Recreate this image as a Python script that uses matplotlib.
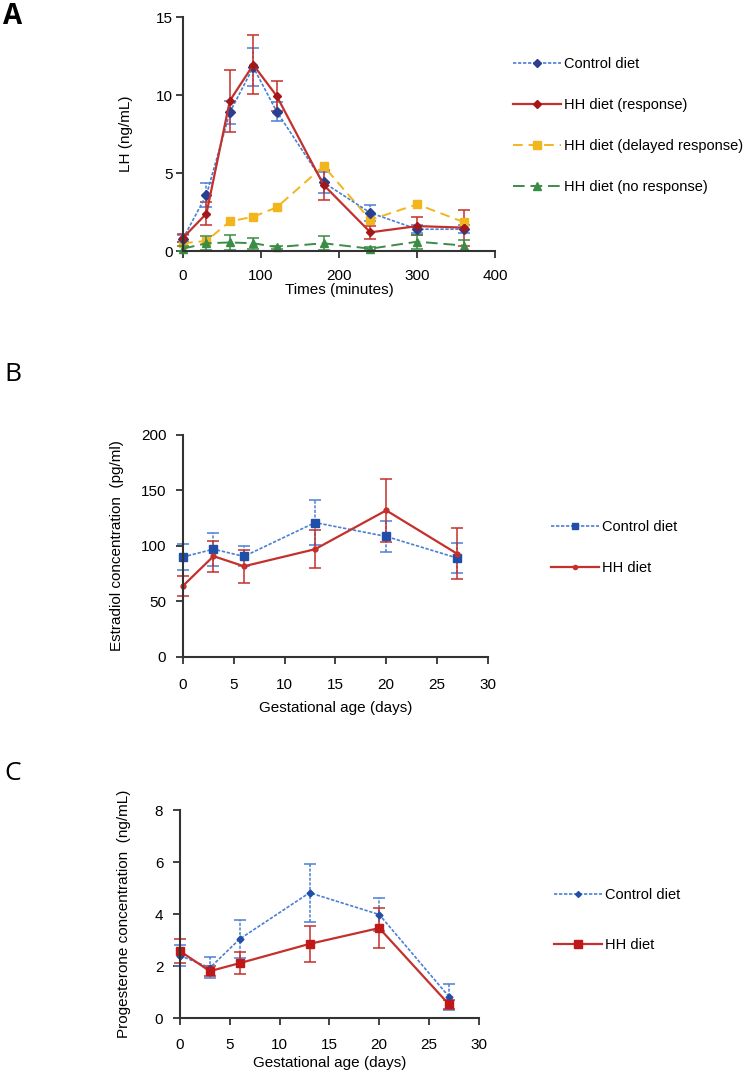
import matplotlib
matplotlib.use("Agg")
import matplotlib.pyplot as plt

plt.rcParams['font.family'] = ['Liberation Sans', 'DejaVu Sans']

# Panel A: LH response
timesA = [0, 30, 60, 90, 120, 180, 240, 300, 360]
lhControl = [0.8, 3.6, 8.9, 11.8, 8.95, 4.4, 2.45, 1.4, 1.4]
lhControlErr = [0.2, 0.75, 0.75, 1.2, 0.6, 0.65, 0.5, 0.25, 0.25]
lhResponse = [0.85, 2.4, 9.65, 11.95, 9.95, 4.25, 1.2, 1.6, 1.5]
lhResponseErr = [0.25, 0.75, 2.0, 1.9, 0.95, 0.95, 0.4, 0.6, 1.15]
lhDelayed = [0.5, 0.65, 1.9, 2.2, 2.8, 5.45, 2.0, 3.0, 1.85]
lhNone = [0.15, 0.5, 0.55, 0.5, 0.25, 0.5, 0.15, 0.6, 0.35]
lhNoneErr = [0.15, 0.45, 0.5, 0.35, 0.1, 0.45, 0.1, 0.45, 0.35]
labelsA = ['Control diet', 'HH diet (response)', 'HH diet (delayed response)',
           'HH diet (no response)']

# Panel B: estradiol
daysB = [0, 3, 6, 13, 20, 27]
e2Control = [90, 97, 90.5, 121, 108.5, 89]
e2ControlErr = [11.5, 15, 9, 20.5, 14, 13.5]
e2HH = [64, 90.7, 81.6, 97, 132, 92.8]
e2HHErr = [9, 14, 15, 17, 28.7, 23]

# Panel C: progesterone
daysC = [0, 3, 6, 13, 20, 27]
p4Control = [2.41, 1.94, 3.05, 4.83, 3.99, 0.83]
p4ControlErr = [0.42, 0.4, 0.74, 1.12, 0.64, 0.5]
p4HH = [2.58, 1.81, 2.12, 2.86, 3.47, 0.53]
p4HHErr = [0.46, 0.2, 0.42, 0.68, 0.77, 0.18]
labelsBC = ['Control diet', 'HH diet']

blueLine = '#4a7fd4'
blueMark = '#2b3f8f'
redLine = '#c4302b'
redMark = '#a3161a'
yellow = '#f2b51c'
green = '#3b8c45'
fs = 11

fig = plt.figure(figsize=(7.47, 10.82), dpi=100)


def styleAxes(ax, xpad, ypad):
    for s in ['top', 'right']:
        ax.spines[s].set_visible(False)
    for s in ['left', 'bottom']:
        ax.spines[s].set_linewidth(1.5)
        ax.spines[s].set_color('#333333')
    ax.tick_params(direction='out', length=5, width=1.3, color='#333333',
                   labelsize=fs)
    ax.tick_params(axis='x', pad=xpad)
    ax.tick_params(axis='y', pad=ypad)


def eb(ax, x, y, err, color, mcolor, marker, ms, ls, lw, ebls):
    c = ax.errorbar(x, y, yerr=err, color=color, marker=marker, ms=ms,
                    mfc=mcolor, mec=mcolor, ls=ls, lw=lw, capsize=4,
                    elinewidth=1.1, capthick=1.1, clip_on=False)
    for col in c[2]:
        col.set_linestyle(ebls)
    return c[0]


def addLegend(ax, handles, labels, x, y, ls):
    ax.legend(handles, labels, loc='upper left', bbox_to_anchor=(x, y),
              bbox_transform=fig.transFigure, frameon=False, fontsize=10.5,
              handlelength=3.3, labelspacing=ls, handletextpad=0.2, borderpad=0,
              markerscale=0.85)


# ---- A ----
axA = fig.add_axes([0.245, 0.768, 0.418, 0.216])
hA = []
hA.append(eb(axA, timesA, lhControl, lhControlErr, blueLine, blueMark, 'D', 5, (0, (2, 1)), 1.2, (0, (2, 1))))
hA.append(eb(axA, timesA, lhResponse, lhResponseErr, redLine, redMark, 'D', 4.5, '-', 1.6, '-'))
hA += axA.plot(timesA, lhDelayed, color=yellow, marker='s', ms=6, ls=(0, (5, 3)), lw=1.4,
               clip_on=False)
hA.append(eb(axA, timesA, lhNone, lhNoneErr, green, green, '^', 6, (0, (6, 3)), 1.4, '-'))
axA.set_xlim(0, 400)
axA.set_ylim(0, 15)
axA.set_xticks([0, 100, 200, 300, 400])
axA.set_yticks([0, 5, 10, 15])
styleAxes(axA, 8, 2)
axA.set_xlabel('Times (minutes)', fontsize=fs, labelpad=0)
axA.set_ylabel('LH (ng/mL)', fontsize=fs, labelpad=17)
addLegend(axA, hA, labelsA, 0.677, 0.954, 1.85)

# ---- B ----
axB = fig.add_axes([0.245, 0.393, 0.408, 0.205])
hB = []
hB.append(eb(axB, daysB, e2Control, e2ControlErr, blueLine, '#1f4fa8', 's', 5.5, (0, (2, 1)), 1.2, (0, (2, 1))))
hB.append(eb(axB, daysB, e2HH, e2HHErr, redLine, redLine, 'o', 3.5, '-', 1.6, '-'))
axB.set_xlim(0, 30)
axB.set_ylim(0, 200)
axB.set_xticks(range(0, 31, 5))
axB.set_yticks(range(0, 201, 50))
styleAxes(axB, 10, 7)
axB.set_xlabel('Gestational age (days)', fontsize=fs, labelpad=7)
axB.set_ylabel('Estradiol concentration  (pg/ml)', fontsize=fs, labelpad=12)
addLegend(axB, hB, labelsBC, 0.728, 0.526, 1.85)

# ---- C ----
axC = fig.add_axes([0.241, 0.059, 0.400, 0.192])
hC = []
hC.append(eb(axC, daysC, p4Control, p4ControlErr, blueLine, '#1f4fa8', 'D', 3.5, (0, (2, 1)), 1.2, (0, (2, 1))))
hC.append(eb(axC, daysC, p4HH, p4HHErr, redLine, '#c01818', 's', 6, '-', 1.6, '-'))
axC.set_xlim(0, 30)
axC.set_ylim(0, 8)
axC.set_xticks(range(0, 31, 5))
axC.set_yticks(range(0, 9, 2))
styleAxes(axC, 9, 7)
axC.set_xlabel('Gestational age (days)', fontsize=fs, labelpad=3)
axC.set_ylabel('Progesterone concentration  (ng/mL)', fontsize=fs, labelpad=17)
addLegend(axC, hC, labelsBC, 0.732, 0.186, 2.5)

# panel letters
fig.text(0.004, 0.985, 'A', fontsize=20, fontweight='bold', family='Open Sans', va='center')
fig.text(0.006, 0.654, 'B', fontsize=19, family='Open Sans', va='center')
fig.text(0.006, 0.285, 'C', fontsize=19, family='Open Sans', va='center')

fig.savefig('out.png', dpi=100)
